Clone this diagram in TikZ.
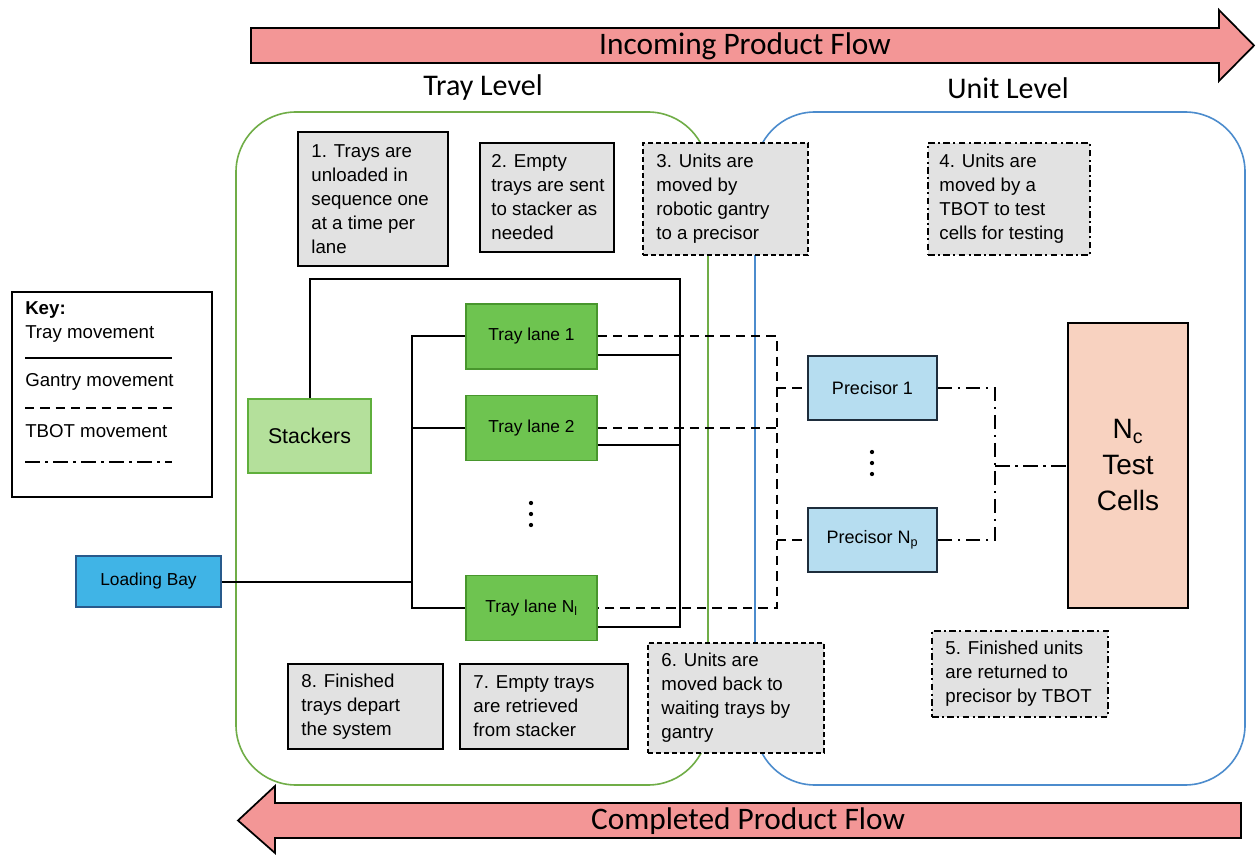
\documentclass[tikz,border=0pt]{standalone}
\usepackage{fontspec}
\setmainfont{Liberation Sans}
\newfontfamily\headfont{Carlito}
\usetikzlibrary{calc}
\definecolor{arrowfill}{RGB}{243,150,150}
\definecolor{greenborder}{RGB}{112,173,71}
\definecolor{blueborder}{RGB}{76,140,205}
\definecolor{boxgray}{RGB}{226,226,226}
\definecolor{stackfill}{RGB}{180,224,155}
\definecolor{stackborder}{RGB}{95,175,60}
\definecolor{lanefill}{RGB}{110,196,80}
\definecolor{laneborder}{RGB}{72,150,45}
\definecolor{lbfill}{RGB}{64,180,230}
\definecolor{lbborder}{RGB}{40,90,140}
\definecolor{precfill}{RGB}{182,221,240}
\definecolor{precborder}{RGB}{30,45,60}
\definecolor{tcfill}{RGB}{248,210,192}
\begin{document}
\begin{tikzpicture}[x=0.75pt,y=-0.75pt,
  tray/.style={line width=1.5pt},
  gantry/.style={line width=1.5pt, dash pattern=on 7pt off 4.5pt},
  tbot/.style={line width=1.5pt, dash pattern=on 11pt off 4pt on 2pt off 4pt},
  tbox/.style={draw=black, line width=1.2pt, fill=boxgray, inner sep=0pt},
  tboxd/.style={tbox, dash pattern=on 4pt off 2pt},
  tboxdd/.style={tbox, dash pattern=on 5pt off 2.5pt on 1.5pt off 2.5pt},
  btext/.style={anchor=west, align=left, inner sep=0pt, font=\fontsize{14}{18}\selectfont},
  lane/.style={draw=laneborder, fill=lanefill, line width=1.2pt, minimum width=98.25pt, minimum height=48.75pt, inner sep=0pt, font=\fontsize{13}{15}\selectfont},
  prec/.style={draw=precborder, fill=precfill, line width=1.2pt, minimum width=96.75pt, minimum height=48pt, inner sep=0pt, font=\fontsize{13.5}{15}\selectfont},
  arrowst/.style={draw=black, line width=1.3pt, fill=arrowfill},
  flowtext/.style={font=\headfont\fontsize{23.5}{26}\selectfont, inner sep=0pt},
  leveltext/.style={font=\headfont\fontsize{22.5}{26}\selectfont, inner sep=0pt},
  keytext/.style={anchor=west, inner sep=0pt, font=\fontsize{14}{16}\selectfont},
  region/.style={line width=1.2pt, rounded corners=45pt}
]
\fill[white] (0,0) rectangle (1256,855);
\useasboundingbox (0,0) rectangle (1256,855);

% flow arrows
\draw[arrowst] (251,28) -- (1219,28) -- (1219,10) -- (1254,45.5) -- (1219,81) -- (1219,63) -- (251,63) -- cycle;
\node[flowtext] (inflow) at (745,46) {Incoming Product Flow};
\draw[arrowst] (1241,803) -- (275,803) -- (275,786) -- (238,820.5) -- (275,853) -- (275,838) -- (1241,838) -- cycle;
\node[flowtext] (outflow) at (748,821) {Completed Product Flow};

\node[leveltext] (traylevel) at (483,88) {Tray Level};
\node[leveltext] (unitlevel) at (1008,88) {Unit Level};

% regions
\draw[region, draw=greenborder] (236,112) rectangle (708,785);
\draw[region, draw=blueborder] (755,112) rectangle (1245,785);

% key
\node[draw=black, line width=1.2pt, minimum width=150pt, minimum height=153.75pt, inner sep=0pt] (key) at (112,394.5) {};
\node[keytext, font=\bfseries\fontsize{14}{16}\selectfont] (keyt) at (25,310) {Key:};
\node[keytext] (k1) at (25,334) {Tray movement};
\node[keytext] (k2) at (25,382) {Gantry movement};
\node[keytext] (k3) at (25,431) {TBOT movement};
\coordinate (k1a) at (25,358); \coordinate (k1b) at (172,358);
\coordinate (k2a) at (25,408); \coordinate (k2b) at (172,408);
\coordinate (k3a) at (25,462); \coordinate (k3b) at (172,462);
\draw[tray] (k1a) -- (k1b);
\draw[gantry] (k2a) -- (k2b);
\draw[tbot] (k3a) -- (k3b);

% main nodes
\node[draw=lbborder, fill=lbfill, line width=1.2pt, minimum width=108.75pt, minimum height=38.25pt, inner sep=0pt, font=\fontsize{13}{15}\selectfont] (lb) at (148.5,581.5) {Loading Bay};
\node[draw=stackborder, fill=stackfill, line width=1.2pt, minimum width=92.25pt, minimum height=55.5pt, inner sep=0pt, font=\fontsize{16}{18}\selectfont] (st) at (309.5,436) {Stackers};
\node[lane] (l1) at (531.5,336.5) {Tray lane 1};
\node[lane] (l2) at (531.5,428) {Tray lane 2};
\node[lane] (lN) at (531.5,608) {Tray lane N\textsubscript{l}};
\node[prec] (p1) at (872.5,388) {Precisor 1};
\node[prec] (pN) at (872.5,540) {Precisor N\textsubscript{p}};
\node[draw=black, fill=tcfill, line width=1.2pt, minimum width=90pt, minimum height=213.75pt, inner sep=0pt, align=center, font=\fontsize{21}{27}\selectfont] (tc) at (1128,465.5) {N\textsubscript{c}\\Test\\Cells};

% dots
\fill (531,503) circle (1.6pt) (531,514) circle (1.6pt) (531,525) circle (1.6pt);
\fill (872,452) circle (1.6pt) (872,463) circle (1.6pt) (872,474) circle (1.6pt);

% tray movement
\coordinate (j) at (412,581.5);
\coordinate (rt) at (680,279);
\draw[tray] (lb.east) -- (j);
\draw[tray] (l1.west) -- (l1.west -| j) -- (lN.west -| j) -- (lN.west);
\draw[tray] (l2.west) -- (l2.west -| j);
\draw[tray] (st.north) -- (st.north |- rt) -- (rt) -- ([yshift=-14.25pt]lN.east -| rt) -- ([yshift=-14.25pt]lN.east);
\draw[tray] ([yshift=-14.25pt]l1.east) -- ([yshift=-14.25pt]l1.east -| rt);
\draw[tray] ([yshift=-12.5pt]l2.east) -- ([yshift=-12.5pt]l2.east -| rt);

% gantry movement
\coordinate (gx) at (777,0);
\draw[gantry] (l1.east) -- (l1.east -| gx) -- (lN.east -| gx) -- (lN.east);
\draw[gantry] (l2.east) -- (l2.east -| gx);
\draw[gantry] (p1.west -| gx) -- (p1.west);
\draw[gantry] (pN.west -| gx) -- (pN.west);

% TBOT movement
\coordinate (tx) at (995,0);
\draw[tbot] (p1.east) -- (p1.east -| tx) -- (pN.east -| tx) -- (pN.east);
\draw[tbot] (tc.west -| tx) -- (tc.west);

% text boxes
\node[tbox, minimum width=112.5pt, minimum height=100.5pt] (b1) at (373,199) {};
\node[btext] (b1t) at ([xshift=10.5pt]b1.west) {1. Trays are\\unloaded in\\sequence one\\at a time per\\lane};
\node[tbox, minimum width=100.5pt, minimum height=81.75pt] (b2) at (547,197.5) {};
\node[btext] (b2t) at ([xshift=9pt]b2.west) {2. Empty\\trays are sent\\to stacker as\\needed};
\node[tboxd, minimum width=123.75pt, minimum height=84pt] (b3) at (725.5,199) {};
\node[btext] (b3t) at ([xshift=10.5pt]b3.west) {3. Units are\\moved by\\robotic gantry\\to a precisor};
\node[tboxdd, minimum width=121.5pt, minimum height=84pt] (b4) at (1009,199) {};
\node[btext] (b4t) at ([xshift=9pt]b4.west) {4. Units are\\moved by a\\TBOT to test\\cells for testing};
\node[tboxdd, minimum width=132pt, minimum height=64.5pt] (b5) at (1020,674) {};
\node[btext] (b5t) at ([xshift=10.5pt]b5.west) {5. Finished units\\are returned to\\precisor by TBOT};
\node[tboxd, minimum width=132pt, minimum height=82.5pt] (b6) at (736,698) {};
\node[btext] (b6t) at ([xshift=10.5pt]b6.west) {6. Units are\\moved back to\\waiting trays by\\gantry};
\node[tbox, minimum width=126pt, minimum height=63.75pt] (b7) at (544,706.5) {};
\node[btext] (b7t) at ([xshift=10.5pt]b7.west) {7. Empty trays\\are retrieved\\from stacker};
\node[tbox, minimum width=116.25pt, minimum height=63.75pt] (b8) at (365.5,706.5) {};
\node[btext] (b8t) at ([xshift=10.5pt]b8.west) {8. Finished\\trays depart\\the system};
\end{tikzpicture}
\end{document}
